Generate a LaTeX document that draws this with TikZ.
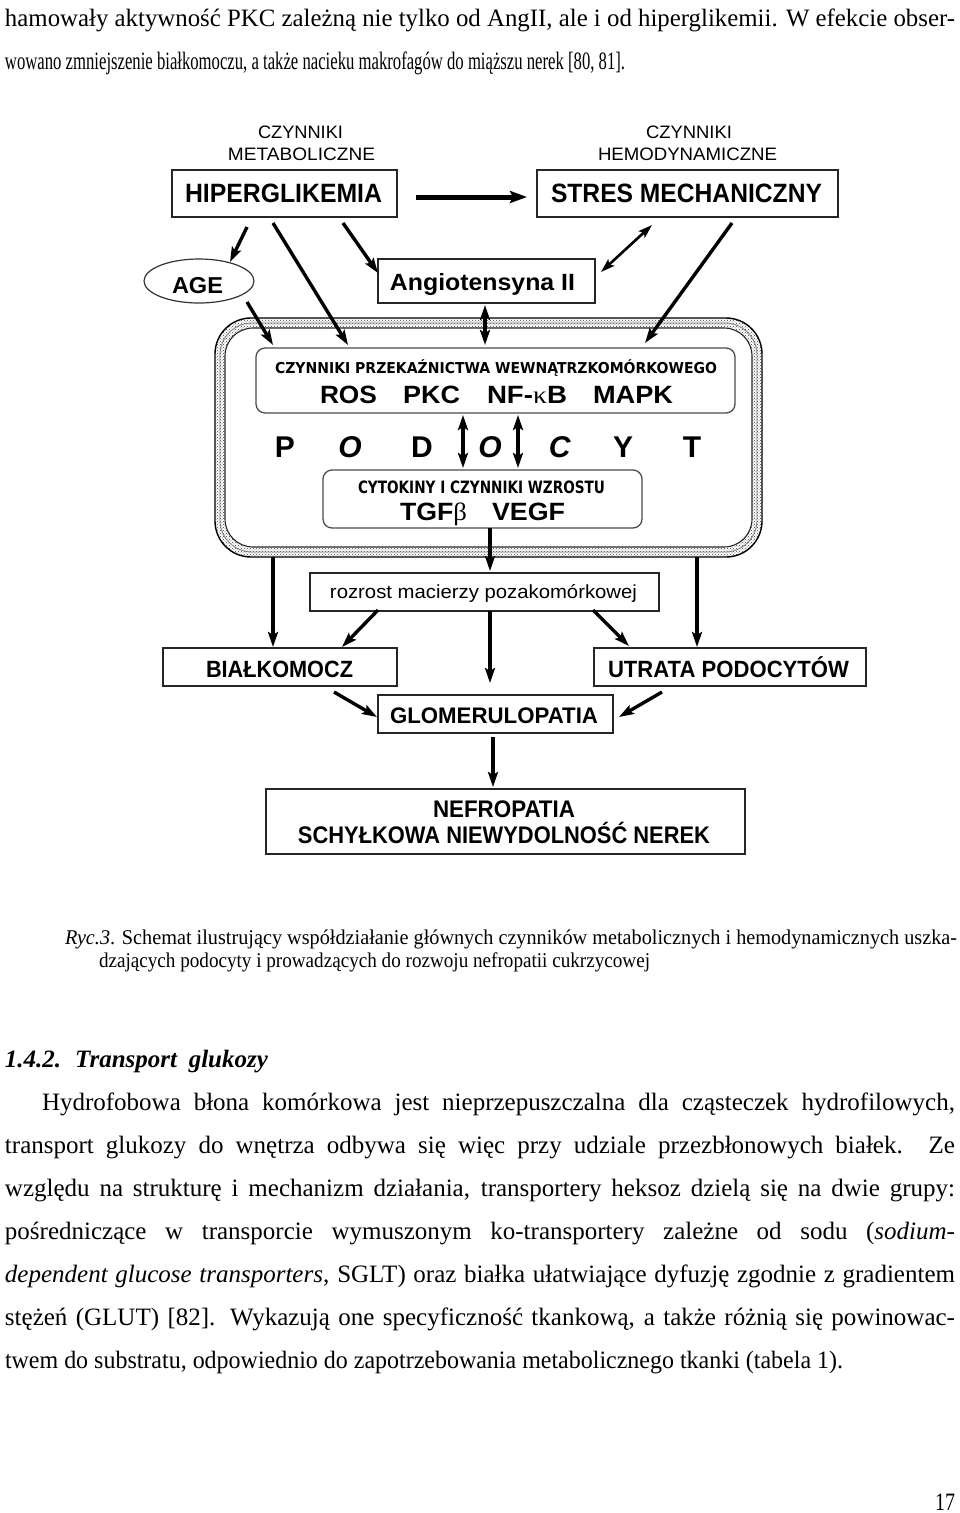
\documentclass[tikz,border=0pt]{standalone}
\usepackage{fontspec}
\usepackage{graphicx}
\setmainfont{Liberation Serif}
\newfontfamily\arialf{Liberation Sans}
\newfontfamily\dvf{DejaVu Sans}
\usetikzlibrary{arrows.meta,patterns,shapes.geometric}
\newcommand\fitw[2]{\resizebox{#1}{\height}{#2}}
\newcommand\jline[2]{\setbox0=\hbox{#2}\ifdim\wd0>#1\relax\resizebox{#1}{\height}{#2}\else\makebox[#1][s]{#2}\fi}
\begin{document}
\begin{tikzpicture}[x=1pt,y=-1pt,
  box/.style={draw=black!85, line width=1.6pt, inner sep=0pt, outer sep=0pt},
  rbox/.style={draw=black!70, line width=1.3pt, rounded corners=9pt, inner sep=0pt, outer sep=0pt, fill=white},
  txt/.style={inner sep=0pt, outer sep=0pt, anchor=base},
  txtw/.style={inner sep=0pt, outer sep=0pt, anchor=base west},
  ptxt/.style={inner sep=0pt, outer sep=0pt, anchor=base west, font=\fontsize{25pt}{43pt}\selectfont},
  small/.style={font=\arialf\fontsize{18pt}{20pt}\selectfont},
  big/.style={font=\arialf\bfseries\fontsize{26.5pt}{30pt}\selectfont},
  mid/.style={font=\arialf\bfseries\fontsize{23.5pt}{26pt}\selectfont},
  arr/.style={line width=3.4pt, -{Stealth[length=15pt,width=10pt,inset=3pt]}},
  darr/.style={line width=3.4pt, {Stealth[length=15pt,width=10pt,inset=3pt]}-{Stealth[length=15pt,width=10pt,inset=3pt]}}
]
\fill[white] (0,0) rectangle (960,1513);
\useasboundingbox (0,0) rectangle (960,1513);

% ---------- page text above ----------
\node[ptxt] (l1) at (5,26) {\jline{950pt}{hamowały aktywność PKC zależną nie tylko od AngII, ale i od hiperglikemii. W efekcie obser-}};
\node[ptxt] (l2) at (5,69) {\jline{620pt}{wowano zmniejszenie białkomoczu, a także nacieku makrofagów do miąższu nerek [80, 81].}};

% ---------- diagram ----------
\node[txt, small] (czm1) at (300.5,138) {\fitw{85pt}{CZYNNIKI}};
\node[txt, small] (czm2) at (301.5,160) {\fitw{147pt}{METABOLICZNE}};
\node[txt, small] (czh1) at (689,138) {\fitw{86pt}{CZYNNIKI}};
\node[txt, small] (czh2) at (687.5,160) {\fitw{179pt}{HEMODYNAMICZNE}};

\node[box, minimum width=225pt, minimum height=47pt] (hip) at (284.5,193.5) {};
\node[txt, big] (hipt) at (283.5,202) {\fitw{197pt}{HIPERGLIKEMIA}};
\node[box, minimum width=301pt, minimum height=47pt] (stres) at (687.5,193.5) {};
\node[txt, big] (stest) at (686.5,202) {\fitw{271pt}{STRES MECHANICZNY}};

\node[ellipse, draw=black!80, line width=1.2pt, minimum width=110pt, minimum height=44pt, inner sep=0pt, outer sep=0pt] (age) at (199,281) {};
\node[txt, font=\arialf\bfseries\fontsize{23pt}{25pt}\selectfont] (aget) at (197.5,293) {\fitw{51pt}{AGE}};
\node[box, minimum width=217pt, minimum height=44pt] (ang) at (486.5,281) {};
\node[txt, font=\arialf\bfseries\fontsize{23.5pt}{26pt}\selectfont] (angt) at (482.5,290) {\fitw{185pt}{Angiotensyna II}};

% podocyte
\node[draw=black, line width=1.4pt, rounded corners=36pt, pattern=crosshatch dots, pattern color=black!75, minimum width=547pt, minimum height=239pt, inner sep=0pt, outer sep=0pt] (pod) at (488.5,437.5) {};
\node[draw=black!50, line width=0.8pt, rounded corners=32pt, minimum width=537pt, minimum height=229pt, inner sep=0pt, outer sep=0pt] (podmid) at (488.5,437.5) {};
\node[draw=black!85, line width=1.1pt, fill=white, rounded corners=28pt, minimum width=527pt, minimum height=219pt, inner sep=0pt, outer sep=0pt] (podin) at (488.5,437.5) {};

\node[rbox, minimum width=479pt, minimum height=65pt] (sig) at (495.5,380.5) {};
\node[txt, font=\dvf\bfseries\fontsize{15pt}{17pt}\selectfont] (sigt) at (496,373) {\fitw{442pt}{CZYNNIKI PRZEKAŹNICTWA WEWNĄTRZKOMÓRKOWEGO}};
\node[txtw, font=\arialf\bfseries\fontsize{25pt}{28pt}\selectfont] (ros) at (320,403) {\fitw{57pt}{ROS}};
\node[txtw, font=\arialf\bfseries\fontsize{25pt}{28pt}\selectfont] (pkc) at (403,403) {\fitw{57pt}{PKC}};
\node[txtw, font=\arialf\bfseries\fontsize{25pt}{28pt}\selectfont] (nfkb) at (487,403) {\fitw{80pt}{NF-{\rmfamily\mdseries κ}B}};
\node[txtw, font=\arialf\bfseries\fontsize{25pt}{28pt}\selectfont] (mapk) at (593,403) {\fitw{80pt}{MAPK}};

\foreach \lt/\xx [count=\i] in {P/285,\textit{O}/350,D/422,\textit{O}/490,\textit{C}/560,Y/623,T/692}
  \node[txt, font=\arialf\bfseries\fontsize{30pt}{32pt}\selectfont] (pl\i) at (\xx,457) {\lt};

\node[rbox, minimum width=319pt, minimum height=58pt] (cyt) at (482.5,499) {};
\node[txt, font=\dvf\bfseries\fontsize{17pt}{19pt}\selectfont] (cytt) at (481.5,493) {\fitw{247pt}{CYTOKINY I CZYNNIKI WZROSTU}};
\node[txtw, font=\arialf\bfseries\fontsize{25pt}{28pt}\selectfont] (tgf) at (400,520) {\fitw{67pt}{TGF{\rmfamily\mdseries β}}};
\node[txtw, font=\arialf\bfseries\fontsize{25pt}{28pt}\selectfont] (vegf) at (492,520) {\fitw{73pt}{VEGF}};

\node[box, minimum width=349pt, minimum height=38pt] (roz) at (484.5,592) {};
\node[txt, font=\arialf\fontsize{19pt}{21pt}\selectfont] (rozt) at (483.5,598) {\fitw{307pt}{rozrost macierzy pozakomórkowej}};

\node[box, minimum width=234pt, minimum height=38pt] (bial) at (280,667) {};
\node[txt, mid] (bialt) at (279.5,677) {\fitw{147pt}{BIAŁKOMOCZ}};
\node[box, minimum width=272pt, minimum height=38pt] (utr) at (730,667) {};
\node[txt, mid] (utrt) at (728.5,677) {\fitw{241pt}{UTRATA PODOCYTÓW}};
\node[box, minimum width=235pt, minimum height=38pt] (glo) at (495.5,714) {};
\node[txt, font=\arialf\bfseries\fontsize{22.5pt}{25pt}\selectfont] (glot) at (494,723) {\fitw{208pt}{GLOMERULOPATIA}};
\node[box, minimum width=479pt, minimum height=65pt] (nef) at (505.5,821.5) {};
\node[txt, font=\arialf\bfseries\fontsize{24pt}{26pt}\selectfont] (neft1) at (504,817) {\fitw{142pt}{NEFROPATIA}};
\node[txt, font=\arialf\bfseries\fontsize{24pt}{26pt}\selectfont] (neft2) at (504,843) {\fitw{412pt}{SCHYŁKOWA NIEWYDOLNOŚĆ NEREK}};

% connectors
\draw[line width=5pt, -{Stealth[length=17pt,width=12pt,inset=3pt]}] ([shift={(19,3.5)}]hip.east) -- ([shift={(-10,3.5)}]stres.west);
\draw[arr] ([shift={(75,10)}]hip.south west) -- ([shift={(31,-19)}]age.center);
\draw[arr] ([shift={(101,6)}]hip.south west) -- ([shift={(92,-3)}]sig.north west);
\draw[arr] ([shift={(171,6)}]hip.south west) -- ([shift={(0,-8)}]ang.west);
\draw[arr] ([shift={(48,21)}]age.center) -- ([shift={(17,-3)}]sig.north west);
\draw[line width=2.6pt, {Stealth[length=14pt,width=9pt,inset=3pt]}-{Stealth[length=14pt,width=9pt,inset=3pt]}] ([shift={(115,8)}]stres.south west) -- ([shift={(6,-9)}]ang.east);
\draw[arr] ([shift={(195,6)}]stres.south west) -- ([shift={(389,-5)}]sig.north west);
\draw[darr] ([shift={(-1.5,2)}]ang.south) -- ([shift={(-10.5,-3)}]sig.north);
\draw[darr] ([shift={(-32.5,2)}]sig.south) -- ([shift={(-19.5,-2)}]cyt.north);
\draw[darr] ([shift={(22.5,2)}]sig.south) -- ([shift={(35.5,-2)}]cyt.north);
\draw[arr] ([shift={(7.5,0)}]cyt.south) -- ([shift={(5.5,-2)}]roz.north);
\draw[arr] ([shift={(58,0)}]pod.south west) -- ([shift={(-7,-1)}]bial.north);
\draw[arr] ([shift={(-65,0)}]pod.south east) -- ([shift={(-33,-1)}]utr.north);
\draw[arr] ([shift={(68,-1)}]roz.south west) -- ([shift={(62,-1)}]bial.north);
\draw[arr] ([shift={(5.5,0)}]roz.south) -- ([shift={(-5.5,-12)}]glo.north);
\draw[arr] ([shift={(-66,-1)}]roz.south east) -- ([shift={(35,-2)}]utr.north west);
\draw[arr] ([shift={(171,6)}]bial.south west) -- ([shift={(-1,3)}]glo.west);
\draw[arr] ([shift={(68,6)}]utr.south west) -- ([shift={(6,3)}]glo.east);
\draw[arr] ([shift={(-2.5,4)}]glo.south) -- ([shift={(-12.5,-2)}]nef.north);

% ---------- caption ----------
\node[txtw, font=\fontsize{21pt}{23pt}\selectfont] (cap1) at (65,944) {\jline{892pt}{\textit{Ryc.3}. Schemat ilustrujący współdziałanie głównych czynników metabolicznych i hemodynamicznych uszka-}};
\node[txtw, font=\fontsize{21pt}{23pt}\selectfont] (cap2) at (99,967) {\jline{551pt}{dzających podocyty i prowadzących do rozwoju nefropatii cukrzycowej}};

% ---------- section ----------
\node[ptxt, font=\bfseries\itshape\fontsize{25pt}{43pt}\selectfont] (sec) at (5,1067) {\jline{263pt}{1.4.2.\hspace{14pt}Transport glukozy}};
\node[ptxt] (b1) at (42,1110) {\jline{913pt}{Hydrofobowa błona komórkowa jest nieprzepuszczalna dla cząsteczek hydrofilowych,}};
\node[ptxt] (b2) at (5,1153) {\jline{950pt}{transport glukozy do wnętrza odbywa się więc przy udziale przezbłonowych białek. Ze}};
\node[ptxt] (b3) at (5,1196) {\jline{950pt}{względu na strukturę i mechanizm działania, transportery heksoz dzielą się na dwie grupy:}};
\node[ptxt] (b4) at (5,1239) {\jline{950pt}{pośredniczące w transporcie wymuszonym ko-transportery zależne od sodu (\textit{sodium-}}};
\node[ptxt] (b5) at (5,1282) {\jline{950pt}{\textit{dependent glucose transporters}, SGLT) oraz białka ułatwiające dyfuzję zgodnie z gradientem}};
\node[ptxt] (b6) at (5,1325) {\jline{950pt}{stężeń (GLUT) [82]. Wykazują one specyficzność tkankową, a także różnią się powinowac-}};
\node[ptxt] (b7) at (5,1368) {\jline{838pt}{twem do substratu, odpowiednio do zapotrzebowania metabolicznego tkanki (tabela 1).}};
\node[txtw, font=\fontsize{25pt}{28pt}\selectfont] (pg) at (935,1510) {\fitw{20pt}{17}};
\end{tikzpicture}
\end{document}
